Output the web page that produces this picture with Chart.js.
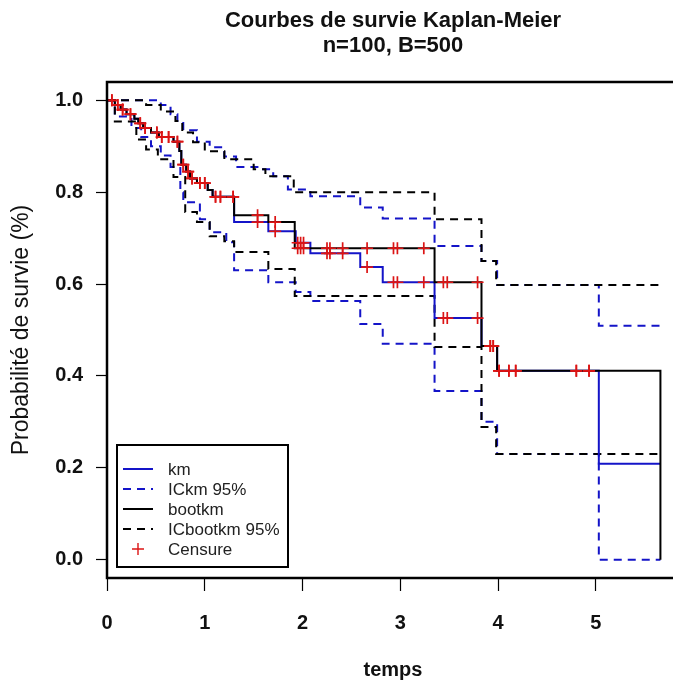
<!DOCTYPE html>
<html>
<head>
<meta charset="utf-8">
<script src="https://cdn.jsdelivr.net/npm/chart.js@4/dist/chart.umd.min.js"></script>
<style>
  html, body { margin: 0; padding: 0; background: #fff; overflow: hidden; }
  #wrap { width: 690px; height: 686px; }
</style>
</head>
<body>
<div id="wrap"><canvas id="km" width="690" height="686"></canvas></div>
<script>
// Kaplan-Meier estimate (km) and its pointwise 95% band
const kmTimes = [0, 0.08, 0.14, 0.20, 0.28, 0.32, 0.37, 0.45, 0.53, 0.68, 0.74, 0.76, 0.81, 0.85, 0.92, 1.03, 1.08, 1.30, 1.65, 1.93, 2.08, 2.59, 2.82, 3.35, 3.83, 3.99, 5.03, 5.66];
const kmSurv  = [1.0, 0.99, 0.98, 0.97, 0.96, 0.95, 0.94, 0.93, 0.92, 0.91, 0.89, 0.86, 0.845, 0.83, 0.82, 0.805, 0.79, 0.735, 0.715, 0.69, 0.667, 0.637, 0.604, 0.526, 0.465, 0.411, 0.209, 0.209];

const icKmUpTimes = [0, 0.55, 0.65, 0.72, 0.78, 0.92, 1.05, 1.20, 1.32, 1.55, 1.70, 1.85, 2.08, 2.59, 2.82, 3.35, 3.83, 3.99, 5.03, 5.66];
const icKmUp      = [1.0, 0.99, 0.97, 0.955, 0.935, 0.91, 0.898, 0.878, 0.855, 0.85, 0.835, 0.806, 0.791, 0.767, 0.743, 0.683, 0.65, 0.598, 0.509, 0.509];

const icKmLowTimes = [0, 0.08, 0.25, 0.35, 0.45, 0.55, 0.65, 0.75, 0.78, 0.95, 1.05, 1.22, 1.30, 1.65, 1.93, 2.08, 2.59, 2.82, 3.35, 3.83, 3.99, 5.03, 5.66];
const icKmLow      = [1.0, 0.965, 0.94, 0.92, 0.90, 0.88, 0.855, 0.80, 0.778, 0.741, 0.713, 0.691, 0.63, 0.604, 0.583, 0.563, 0.513, 0.47, 0.367, 0.30, 0.23, 0.0, 0.0];

// Bootstrap Kaplan-Meier estimate (bootkm) and its 95% band
const bootTimes = [0, 0.08, 0.14, 0.20, 0.28, 0.32, 0.37, 0.45, 0.53, 0.68, 0.74, 0.76, 0.81, 0.85, 0.92, 1.03, 1.08, 1.30, 1.65, 1.92, 3.35, 3.83, 3.99, 5.66];
const bootSurv  = [1.0, 0.99, 0.98, 0.97, 0.96, 0.95, 0.94, 0.93, 0.92, 0.91, 0.89, 0.86, 0.845, 0.83, 0.82, 0.805, 0.79, 0.75, 0.735, 0.678, 0.604, 0.465, 0.411, 0.0];

const icBootUpTimes = [0, 0.40, 0.55, 0.70, 0.77, 0.88, 1.00, 1.20, 1.50, 1.62, 1.91, 3.35, 3.83, 3.98, 5.66];
const icBootUp      = [1.0, 0.99, 0.976, 0.955, 0.93, 0.909, 0.889, 0.872, 0.85, 0.835, 0.80, 0.741, 0.65, 0.598, 0.598];

const icBootLowTimes = [0, 0.08, 0.30, 0.40, 0.52, 0.68, 0.80, 0.92, 1.05, 1.20, 1.30, 1.65, 1.92, 3.35, 3.83, 3.98, 5.66];
const icBootLow      = [1.0, 0.954, 0.915, 0.893, 0.872, 0.833, 0.757, 0.735, 0.704, 0.693, 0.67, 0.633, 0.574, 0.463, 0.289, 0.23, 0.23];

// Censoring times
const censorTimes = [0.05, 0.11, 0.16, 0.24, 0.34, 0.39, 0.51, 0.56, 0.63, 0.72, 0.78, 0.83, 0.87, 0.95, 1.00, 1.11, 1.16, 1.29,
                     1.54, 1.72, 1.95, 1.98, 2.01, 2.25, 2.28, 2.41, 2.66, 2.93, 2.97, 3.24, 3.44, 3.48, 3.79, 3.92, 3.95,
                     4.01, 4.11, 4.18, 4.80, 4.93];

// Axis ticks
const xTicks = [0, 1, 2, 3, 4, 5];
const yTicks = [0.0, 0.2, 0.4, 0.6, 0.8, 1.0];

const BLUE = '#1414c8';
const BLACK = '#000000';
const RED = '#dc1414';
const FONT = "'Liberation Sans', Arial, sans-serif";

const toXY = (ts, vs) => ts.map((t, i) => ({ x: t, y: vs[i] }));
const stepAt = (ts, vs, t) => { let v = vs[0]; for (let i = 0; i < ts.length; i++) { if (ts[i] <= t) v = vs[i]; } return v; };

function stepSet(label, ts, vs, color, dashed, order) {
  return {
    label, data: toXY(ts, vs), showLine: true, stepped: 'before',
    borderColor: color, borderWidth: 2, borderDash: dashed ? [8, 6] : [],
    pointRadius: 0, pointHoverRadius: 0, fill: false, order
  };
}
function censorSet(ts, vs, order) {
  return {
    label: 'Censure', data: censorTimes.map(t => ({ x: t, y: stepAt(ts, vs, t) })),
    showLine: false, pointStyle: 'cross', pointRadius: 6, pointBorderWidth: 1.7,
    pointBorderColor: RED, pointBackgroundColor: RED, borderColor: RED, order
  };
}

const datasets = [
  censorSet(kmTimes, kmSurv, 0),
  censorSet(bootTimes, bootSurv, 0),
  stepSet('bootkm', bootTimes, bootSurv, BLACK, false, 1),
  stepSet('km', kmTimes, kmSurv, BLUE, false, 2),
  stepSet('ICbootkm 95%', icBootUpTimes, icBootUp, BLACK, true, 3),
  stepSet('ICbootkm 95%', icBootLowTimes, icBootLow, BLACK, true, 3),
  stepSet('ICkm 95%', icKmUpTimes, icKmUp, BLUE, true, 4),
  stepSet('ICkm 95%', icKmLowTimes, icKmLow, BLUE, true, 4)
];

const legendItems = [
  { text: 'km', color: BLUE, dash: [] },
  { text: 'ICkm 95%', color: BLUE, dash: [8, 6] },
  { text: 'bootkm', color: BLACK, dash: [] },
  { text: 'ICbootkm 95%', color: BLACK, dash: [8, 6] },
  { text: 'Censure', color: RED, cross: true }
];

// Frame around the plotting region
const framePlugin = {
  id: 'frame',
  afterDraw(chart) {
    const { ctx, chartArea: a } = chart;
    ctx.save();
    ctx.strokeStyle = '#000';
    ctx.lineWidth = 2.5;
    ctx.strokeRect(a.left, a.top, a.right - a.left, a.bottom - a.top);
    ctx.restore();
  }
};

// Boxed legend in the lower-left corner of the plot
const boxLegend = {
  id: 'boxLegend',
  afterDraw(chart) {
    const { ctx, chartArea: a } = chart;
    const x0 = a.left + 10, y0 = a.bottom - 133, w = 171, h = 122;
    ctx.save();
    ctx.fillStyle = '#fff';
    ctx.fillRect(x0, y0, w, h);
    ctx.strokeStyle = '#000';
    ctx.lineWidth = 2;
    ctx.strokeRect(x0, y0, w, h);
    ctx.font = '17px ' + FONT;
    ctx.textBaseline = 'middle';
    legendItems.forEach((it, i) => {
      const y = y0 + 24 + i * 20;
      if (it.cross) {
        ctx.strokeStyle = it.color; ctx.lineWidth = 1.4; ctx.setLineDash([]);
        ctx.beginPath();
        ctx.moveTo(x0 + 15, y); ctx.lineTo(x0 + 27, y);
        ctx.moveTo(x0 + 21, y - 6); ctx.lineTo(x0 + 21, y + 6);
        ctx.stroke();
      } else {
        ctx.strokeStyle = it.color; ctx.lineWidth = 2; ctx.setLineDash(it.dash);
        ctx.beginPath(); ctx.moveTo(x0 + 6, y); ctx.lineTo(x0 + 36, y); ctx.stroke();
      }
      ctx.setLineDash([]);
      ctx.fillStyle = '#222';
      ctx.fillText(it.text, x0 + 51, y + 1);
    });
    ctx.restore();
  }
};

new Chart(document.getElementById('km'), {
  type: 'scatter',
  data: { datasets },
  plugins: [framePlugin, boxLegend],
  options: {
    responsive: false,
    animation: false,
    devicePixelRatio: 1,
    layout: { padding: { left: 0, right: 11, top: 0, bottom: 0 } },
    plugins: {
      legend: { display: false },
      tooltip: { enabled: false },
      title: {
        display: true, fullSize: false,
        text: ['Courbes de survie Kaplan-Meier', 'n=100, B=500'],
        color: '#111', font: { family: FONT, size: 22, weight: 'bold', lineHeight: 1.15 },
        padding: { top: 8, bottom: 23.4 }
      }
    },
    scales: {
      x: {
        type: 'linear', position: 'bottom', min: 0, max: 5.85,
        afterBuildTicks: s => { s.ticks = xTicks.map(v => ({ value: v })); },
        afterFit: s => { s.height = 108; },
        border: { display: false },
        grid: { display: true, drawOnChartArea: false, drawTicks: true, tickLength: 13, tickColor: '#000', tickWidth: 1.2 },
        ticks: { color: '#111', padding: 20, maxRotation: 0, autoSkip: false,
                 font: { family: FONT, size: 20, weight: 'bold' }, callback: v => String(v) },
        title: { display: true, text: 'temps', color: '#111',
                 font: { family: FONT, size: 20, weight: 'bold' }, padding: { top: 0, bottom: 4 } }
      },
      y: {
        type: 'linear', position: 'left', min: -0.04, max: 1.04,
        afterBuildTicks: s => { s.ticks = yTicks.map(v => ({ value: v })); },
        afterFit: s => { s.width = 107; },
        border: { display: false },
        grid: { display: true, drawOnChartArea: false, drawTicks: true, tickLength: 11, tickColor: '#000', tickWidth: 1.2 },
        ticks: { color: '#111', padding: 13, autoSkip: false,
                 font: { family: FONT, size: 20, weight: 'bold' }, callback: v => Number(v).toFixed(1) },
        title: { display: true, text: 'Probabilité de survie (%)', color: '#111',
                 font: { family: FONT, size: 23 }, padding: { top: 8, bottom: 0 } }
      }
    }
  }
});
</script>
</body>
</html>
